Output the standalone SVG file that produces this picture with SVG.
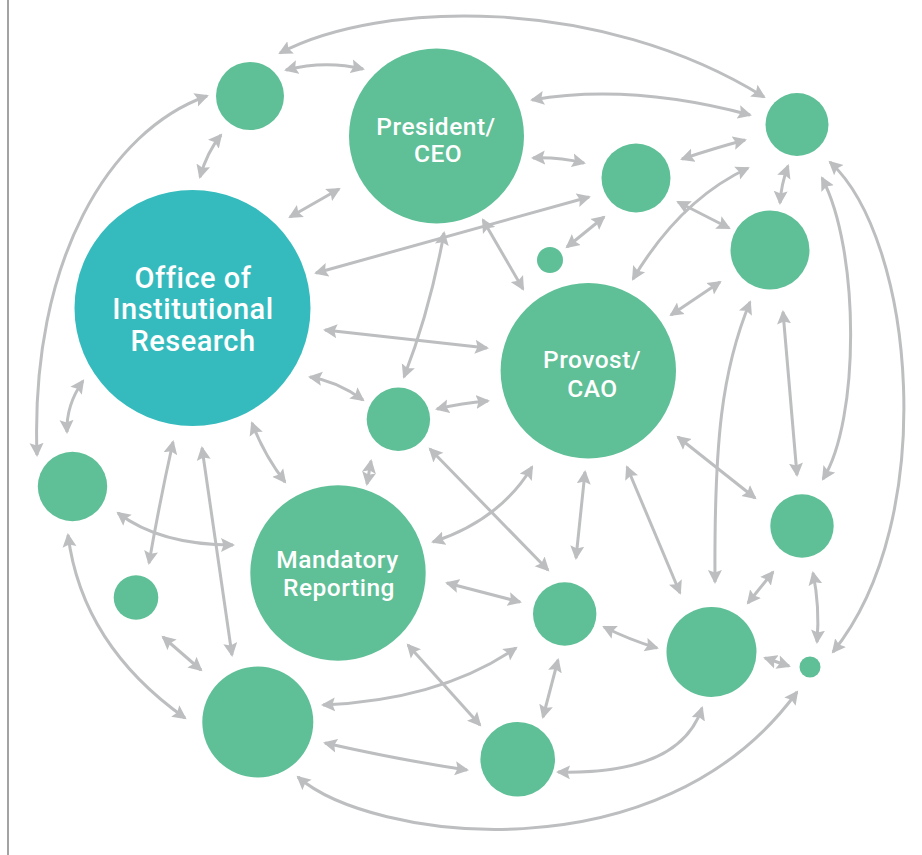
<svg xmlns="http://www.w3.org/2000/svg" width="922" height="855" viewBox="0 0 922 855">
<style>
.g{fill:#5fbf97}
.t{fill:#35bbbd}
.lbl{fill:#ffffff;font-family:Roboto,"Liberation Sans",sans-serif;font-weight:500;text-anchor:middle;letter-spacing:0.5px}
.c path{fill:none;stroke:#bcbec0;stroke-width:3;marker-start:url(#ah);marker-end:url(#ah)}
</style>
<defs>
<marker id="ah" markerUnits="userSpaceOnUse" markerWidth="15" markerHeight="15" refX="12" refY="7" orient="auto-start-reverse" viewBox="0 0 15 14">
<path d="M0,0 L14,7 L0,14 L2.5,7 Z" fill="#bcbec0"/>
</marker>
</defs>
<rect width="922" height="855" fill="#ffffff"/>
<line x1="8" y1="0" x2="8" y2="855" stroke="#858585" stroke-width="1.5"/>
<g id="connectors" class="c">
<path d="M280,53 C380,0 600,-5 764,97"/>
<path d="M286,70 Q325,60 363,69"/>
<path d="M221,135 Q207,152 200,177"/>
<path d="M207,96 C110,130 30,260 37,455"/>
<path d="M290,217 L339,189"/>
<path d="M316,273 L589,197"/>
<path d="M444,233 Q430,310 404,377"/>
<path d="M325,330 L487,348"/>
<path d="M310,377 Q337,381 363,400"/>
<path d="M437,409 Q462,403 488,401"/>
<path d="M483,220 L523,289"/>
<path d="M533,158 Q558,157 584,163"/>
<path d="M532,100 Q630,83 750,115"/>
<path d="M682,159 Q715,148 745,140"/>
<path d="M567,247 L604,217"/>
<path d="M633,279 Q680,200 748,168"/>
<path d="M678,202 L729,228"/>
<path d="M788,166 Q781,185 780,203"/>
<path d="M671,315 L720,282"/>
<path d="M750,302 C722,370 714,440 715,582"/>
<path d="M783,312 L797,475"/>
<path d="M822,178 C860,250 860,420 823,479"/>
<path d="M830,162 C915,240 940,520 833,652"/>
<path d="M678,437 L755,498"/>
<path d="M585,472 L576,558"/>
<path d="M627,467 L680,593"/>
<path d="M430,449 L548,570"/>
<path d="M433,542 Q500,520 532,467"/>
<path d="M371,461 L367,484"/>
<path d="M252,423 Q264,455 285,482"/>
<path d="M83,381 Q66,405 67,432"/>
<path d="M173,442 Q160,500 149,563"/>
<path d="M202,448 L232,655"/>
<path d="M118,513 Q160,545 233,545"/>
<path d="M68,535 Q82,645 185,718"/>
<path d="M163,637 L201,670"/>
<path d="M323,705 Q440,700 516,648"/>
<path d="M408,645 L480,725"/>
<path d="M325,743 Q400,760 467,770"/>
<path d="M298,777 C370,840 660,880 797,692"/>
<path d="M447,583 L520,602"/>
<path d="M604,627 Q630,640 657,648"/>
<path d="M558,660 L543,717"/>
<path d="M558,772 Q680,775 702,708"/>
<path d="M748,603 L773,572"/>
<path d="M813,573 Q820,607 817,642"/>
<path d="M765,658 L789,666"/>
</g>
<g id="node-a"><circle class="g" cx="250" cy="96" r="34"/></g>
<g id="node-president"><circle class="g" cx="436.5" cy="136" r="87.5"/>
<text class="lbl" font-size="24.5" x="436" y="135">President/</text>
<text class="lbl" font-size="24.5" x="438" y="162">CEO</text></g>
<g id="node-oir"><circle class="t" cx="192.5" cy="308" r="118"/>
<text class="lbl" font-size="29" x="193" y="288">Office of</text>
<text class="lbl" font-size="29" x="193" y="319">Institutional</text>
<text class="lbl" font-size="29" x="193" y="351">Research</text></g>
<g id="node-tr"><circle class="g" cx="797" cy="124.5" r="31.5"/></g>
<g id="node-b"><circle class="g" cx="636" cy="178" r="34.5"/></g>
<g id="node-tiny1"><circle class="g" cx="550" cy="260" r="13"/></g>
<g id="node-c"><circle class="g" cx="770" cy="250" r="39.5"/></g>
<g id="node-provost"><circle class="g" cx="588.3" cy="370.7" r="87.7"/>
<text class="lbl" font-size="24.5" x="592" y="368">Provost/</text>
<text class="lbl" font-size="24.5" x="592.5" y="396.7">CAO</text></g>
<g id="node-d"><circle class="g" cx="398.4" cy="419.3" r="31.7"/></g>
<g id="node-left"><circle class="g" cx="72.5" cy="486.5" r="34.7"/></g>
<g id="node-mandatory"><circle class="g" cx="338" cy="573" r="87.7"/>
<text class="lbl" font-size="24.5" x="337.5" y="568.3">Mandatory</text>
<text class="lbl" font-size="24.5" x="339" y="595.7">Reporting</text></g>
<g id="node-small"><circle class="g" cx="136" cy="597.5" r="22.3"/></g>
<g id="node-bigb"><circle class="g" cx="257.8" cy="722" r="55.5"/></g>
<g id="node-e"><circle class="g" cx="564.7" cy="614" r="31.7"/></g>
<g id="node-f"><circle class="g" cx="711.5" cy="652" r="45"/></g>
<g id="node-g"><circle class="g" cx="802" cy="526" r="31.7"/></g>
<g id="node-tiny2"><circle class="g" cx="810" cy="667" r="10.5"/></g>
<g id="node-h"><circle class="g" cx="517.7" cy="759.3" r="37.3"/></g>
</svg>
